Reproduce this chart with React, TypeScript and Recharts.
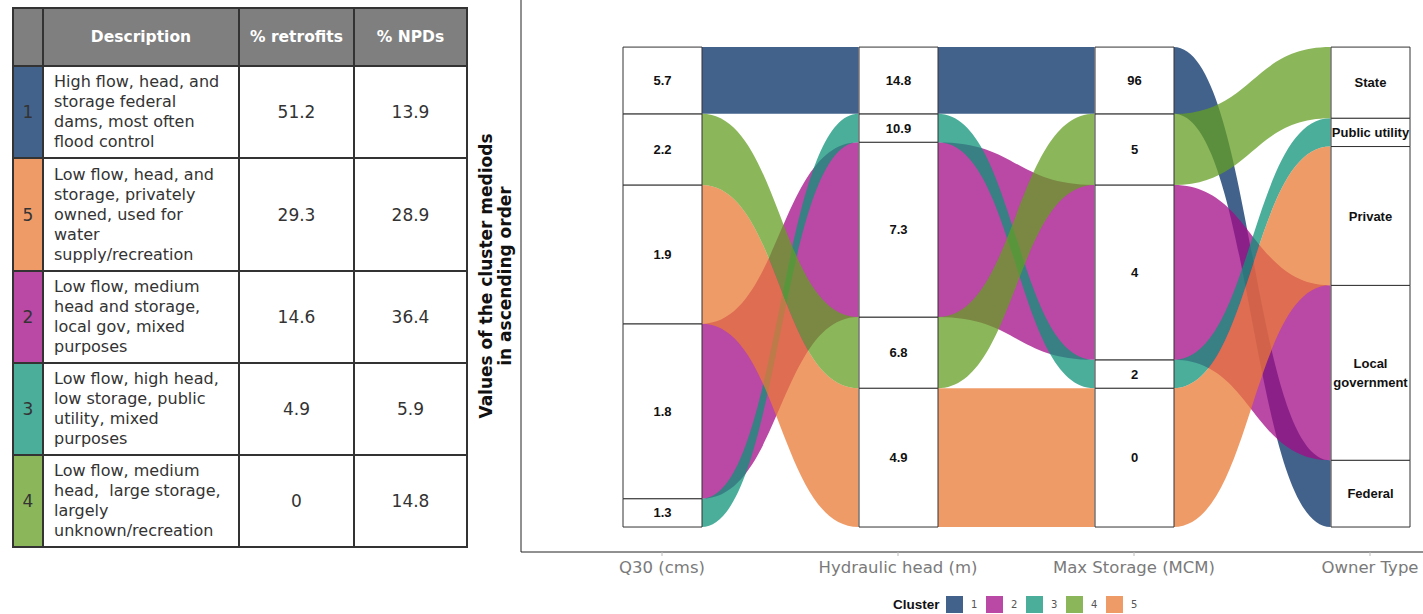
import React from 'react'
import { ComposedChart, Bar, Area, XAxis, YAxis, LabelList, Text } from 'recharts'

// clusters, indexed 1..5
const clusterIds = ['1', '2', '3', '4', '5']
const clusterColors = ['#42628C', '#BA48A5', '#4AAE9B', '#8CB65A', '#EF9B68']
// flow fills are drawn at 0.75 opacity so they land on the legend colours over white
const flowColors = ['#032E66', '#A30B87', '#0E937A', '#649E23', '#EA7A36']
const npdShare = [13.9, 36.4, 5.9, 14.8, 28.9]
const retrofitShare = [51.2, 14.6, 4.9, 0, 29.3]
const clusterDescriptions = [
    'High flow, head, and\nstorage federal\ndams, most often\nflood control',
    'Low flow, medium\nhead and storage,\nlocal gov, mixed\npurposes',
    'Low flow, high head,\nlow storage, public\nutility, mixed\npurposes',
    'Low flow, medium\nhead,  large storage,\nlargely\nunknown/recreation',
    'Low flow, head, and\nstorage, privately\nowned, used for\nwater\nsupply/recreation',
]
const tableOrder = [0, 4, 1, 2, 3]

// alluvial axes and the medoid value of each cluster on them
const axisNames = ['Q30 (cms)', 'Hydraulic head (m)', 'Max Storage (MCM)', 'Owner Type']
const q30Medoids = ['5.7', '1.8', '1.3', '2.2', '1.9']
const headMedoids = ['14.8', '7.3', '10.9', '6.8', '4.9']
const storageMedoids = ['96', '4', '2', '5', '0']
const ownerTypes = ['Federal', 'Local government', 'Public utility', 'State', 'Private']
const yTicks = [25.8, 62.9, 99.9]

const axisLabels = [q30Medoids, headMedoids, storageMedoids, ownerTypes]

const BOX_PX = 79
const STEP_PX = 236
const HALF = BOX_PX / STEP_PX / 2
const drawOrder = [0, 1, 2, 4, 3]

const sortStrata = (labels: string[]) =>
    clusterIds
        .map((_, i) => i)
        .sort((a, b) => {
            const na = Number(labels[a])
            const nb = Number(labels[b])
            if (isNaN(na) || isNaN(nb)) return labels[a].localeCompare(labels[b])
            return na - nb
        })

const axisOrders = axisLabels.map(sortStrata)

const strataData = axisNames.map((name, a) => {
    const row: any = { axis: name }
    axisOrders[a].forEach((c, k) => {
        row['s' + k] = npdShare[c]
        row['l' + k] = axisLabels[a][c]
    })
    return row
})

const clusterBase = axisOrders.map((order) => {
    const base: number[] = []
    let acc = 0
    order.forEach((c) => {
        base[c] = acc
        acc += npdShare[c]
    })
    return base
})

const flows: { key: string; color: string; data: any[] }[] = []
for (let a = 0; a < axisNames.length - 1; a++) {
    drawOrder.forEach((c) => {
        const b1 = clusterBase[a][c]
        const b2 = clusterBase[a + 1][c]
        flows.push({
            key: `flow-${a}-${c}`,
            color: flowColors[c],
            data: [
                { x: a + HALF, band: [b1, b1 + npdShare[c]] },
                { x: a + 1 - HALF, band: [b2, b2 + npdShare[c]] },
            ],
        })
    })
}

const labelFont = '"Liberation Sans", Arial, sans-serif'

const StratumLabel = (props: any) => {
    const vb = props.viewBox || {}
    const x = props.x ?? vb.x
    const y = props.y ?? vb.y
    const width = props.width ?? vb.width
    const height = props.height ?? vb.height
    return (
        <Text
            x={x + width / 2}
            y={y + height / 2}
            width={width + 20}
            textAnchor="middle"
            verticalAnchor="middle"
            lineHeight="1.45em"
            fill="#111"
            fontFamily={labelFont}
            fontWeight={700}
            fontSize={13}
            style={{ fontFamily: labelFont, fontWeight: 700, fontSize: 13 }}
        >
            {props.value}
        </Text>
    )
}

const YTitle = (props: any) => {
    const vb = props.viewBox || { x: 0, y: 0, width: 51, height: 552 }
    const cy = vb.y + vb.height / 2
    const lines = ['Values of the cluster mediods', 'in ascending order']
    return (
        <g>
            {lines.map((line, i) => {
                const x = vb.x + 16 + i * 19
                return (
                    <text
                        key={i}
                        x={x}
                        y={cy}
                        transform={`rotate(-90, ${x}, ${cy})`}
                        textAnchor="middle"
                        dominantBaseline="central"
                        fill="#111"
                        style={{ fontFamily: '"DejaVu Sans", sans-serif', fontWeight: 700, fontSize: 17 }}
                    >
                        {line}
                    </text>
                )
            })}
        </g>
    )
}

const cellBase: React.CSSProperties = {
    background: '#fff',
    display: 'flex',
    alignItems: 'center',
    color: '#333',
    fontFamily: '"DejaVu Sans", sans-serif',
}

const ClusterTable = () => (
    <div
        style={{
            position: 'absolute',
            left: 12,
            top: 7,
            width: 456,
            height: 541,
            boxSizing: 'border-box',
            padding: 2,
            background: '#333',
            display: 'grid',
            gridTemplateColumns: '28px 194px 113px 111px',
            gridTemplateRows: '56px 90px 111px 90px 90px 90px',
            gap: 2,
        }}
    >
        {['', 'Description', '% retrofits', '% NPDs'].map((h, i) => (
            <div
                key={'h' + i}
                style={{
                    ...cellBase,
                    background: '#7F7F7F',
                    color: '#fff',
                    justifyContent: 'center',
                    fontWeight: 700,
                    fontSize: 15.5,
                }}
            >
                {h}
            </div>
        ))}
        {tableOrder.map((c) => (
            <React.Fragment key={'r' + c}>
                <div style={{ ...cellBase, background: clusterColors[c], justifyContent: 'center', fontSize: 17 }}>
                    {clusterIds[c]}
                </div>
                <div style={{ ...cellBase, paddingLeft: 10, fontSize: 16, lineHeight: '20px', whiteSpace: 'pre' }}>
                    {clusterDescriptions[c]}
                </div>
                <div style={{ ...cellBase, justifyContent: 'center', fontSize: 17 }}>{retrofitShare[c]}</div>
                <div style={{ ...cellBase, justifyContent: 'center', fontSize: 17 }}>{npdShare[c]}</div>
            </React.Fragment>
        ))}
    </div>
)

const ClusterLegend = () => (
    <div style={{ position: 'absolute', left: 0, top: 596, width: 1423, height: 18 }}>
        <div
            style={{
                position: 'absolute',
                left: 893,
                top: 0,
                lineHeight: '17px',
                fontFamily: labelFont,
                fontWeight: 700,
                fontSize: 13.5,
                color: '#111',
            }}
        >
            Cluster
        </div>
        {clusterIds.map((id, i) => (
            <React.Fragment key={id}>
                <div
                    style={{
                        position: 'absolute',
                        left: 946 + i * 40,
                        top: 0,
                        width: 17,
                        height: 17,
                        background: clusterColors[i],
                    }}
                />
                <div
                    style={{
                        position: 'absolute',
                        left: 971 + i * 40,
                        top: 0,
                        lineHeight: '17px',
                        fontFamily: '"DejaVu Sans", sans-serif',
                        fontSize: 10,
                        color: '#555',
                    }}
                >
                    {id}
                </div>
            </React.Fragment>
        ))}
    </div>
)

export default function App() {
    return (
        <div
            style={{
                position: 'fixed',
                left: 0,
                top: 0,
                width: 1423,
                height: 614,
                overflow: 'hidden',
                background: '#fff',
            }}
        >
            <ClusterTable />
            <div style={{ position: 'absolute', left: 470, top: 0 }}>
                <ComposedChart width={1018} height={614} data={strataData} margin={{ top: 0, right: 0, bottom: 0, left: 0 }}>
                    <XAxis
                        dataKey="axis"
                        type="category"
                        height={62}
                        padding={{ left: 23, right: 0 }}
                        axisLine={{ stroke: '#222' }}
                        tickLine={{ stroke: '#bbb' }}
                        tickSize={4}
                        tickMargin={5}
                        tick={{ fill: '#7a7a7a', fontSize: 16.5, fontFamily: '"DejaVu Sans", sans-serif' }}
                        interval={0}
                    />
                    <XAxis
                        xAxisId="flow"
                        type="number"
                        dataKey="x"
                        domain={[-0.5, 3.5]}
                        padding={{ left: 23, right: 0 }}
                        allowDataOverflow
                        hide
                    />
                    <YAxis
                        type="number"
                        width={51}
                        domain={[-5.2, 109.7]}
                        ticks={yTicks}
                        allowDataOverflow
                        tick={false}
                        tickSize={5}
                        axisLine={{ stroke: '#222' }}
                        tickLine={{ stroke: '#222' }}
                        label={(p: any) => <YTitle {...p} />}
                    />
                    {flows.map((f) => (
                        <Area
                            key={f.key}
                            xAxisId="flow"
                            data={f.data}
                            dataKey="band"
                            type="bumpX"
                            stroke="none"
                            fill={f.color}
                            fillOpacity={0.75}
                            dot={false}
                            activeDot={false}
                            isAnimationActive={false}
                        />
                    ))}
                    {clusterIds.map((_, k) => (
                        <Bar
                            key={'s' + k}
                            dataKey={'s' + k}
                            stackId="strata"
                            barSize={BOX_PX}
                            fill="#fff"
                            stroke="#333"
                            strokeWidth={1}
                            isAnimationActive={false}
                        >
                            <LabelList dataKey={'l' + k} content={<StratumLabel />} />
                        </Bar>
                    ))}
                </ComposedChart>
            </div>
            <ClusterLegend />
        </div>
    )
}
